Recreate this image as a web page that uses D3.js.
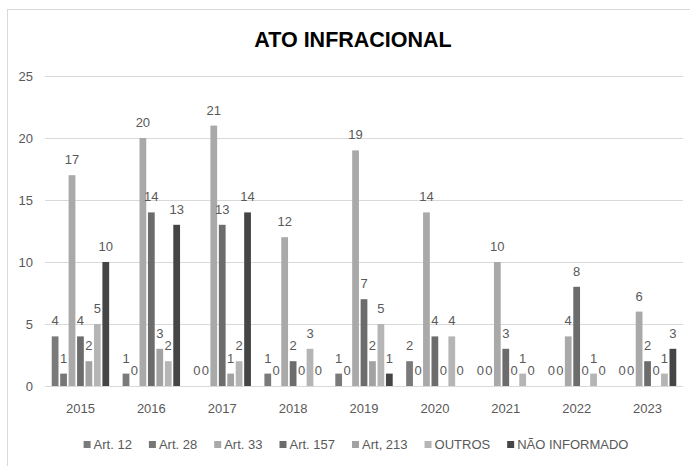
<!DOCTYPE html>
<html>
<head>
<meta charset="utf-8">
<script src="https://cdn.jsdelivr.net/npm/d3@7"></script>
<style>
  body { margin: 0; background: #fff; }
  svg text { font-family: "Liberation Sans", Arial, sans-serif; }
</style>
</head>
<body>
<div id="chart"></div>
<script>
// years on the x axis
var years = ["2015", "2016", "2017", "2018", "2019", "2020", "2021", "2022", "2023"];

// one array per series, same order as years
var art12 = [4, 1, 0, 1, 1, 2, 0, 0, 0];
var art28 = [1, 0, 0, 0, 0, 0, 0, 0, 0];
var art33 = [17, 20, 21, 12, 19, 14, 10, 4, 6];
var art157 = [4, 14, 13, 2, 7, 4, 3, 8, 2];
var art213 = [2, 3, 1, 0, 2, 0, 0, 0, 0];
var outros = [5, 2, 2, 3, 5, 4, 1, 1, 1];
var naoInformado = [10, 13, 14, 0, 1, 0, 0, 0, 3];

var seriesNames = ["Art. 12", "Art. 28", "Art. 33", "Art. 157", "Art, 213", "OUTROS", "NÃO INFORMADO"];
var seriesColors = ["#7a7a7a", "#777777", "#a9a9a9", "#6c6c6c", "#a2a2a2", "#b5b5b5", "#454545"];
var yTicks = [0, 5, 10, 15, 20, 25];

var allValues = [art12, art28, art33, art157, art213, outros, naoInformado];

var width = 690, height = 466;
var margin = { top: 76, right: 7, bottom: 80, left: 45 };

var svg = d3.select("#chart")
  .append("svg")
  .attr("width", width)
  .attr("height", height);

// chart frame (only top and left visible in the picture)
svg.append("rect")
  .attr("x", 7.5)
  .attr("y", 9.5)
  .attr("width", 720)
  .attr("height", 500)
  .attr("fill", "none")
  .attr("stroke", "#d9d9d9");

// title
svg.append("text")
  .attr("x", 353)
  .attr("y", 47)
  .attr("text-anchor", "middle")
  .style("font-size", "21.5px")
  .style("font-weight", "bold")
  .style("fill", "#000")
  .text("ATO INFRACIONAL");

var x0 = d3.scaleBand()
  .domain(years)
  .range([margin.left, width - margin.right])
  .paddingInner(0.19)
  .paddingOuter(0.095);

var x1 = d3.scaleBand()
  .domain(seriesNames)
  .range([0, x0.bandwidth()])
  .paddingInner(0.2);

var y = d3.scaleLinear()
  .domain([0, 25])
  .range([height - 80, margin.top]);

// gridlines + y labels
var yAxis = d3.axisLeft(y)
  .tickValues(yTicks)
  .tickSize(-(width - margin.right - margin.left))
  .tickPadding(12);

var gy = svg.append("g")
  .attr("transform", "translate(" + margin.left + ",0)")
  .call(yAxis);
gy.select(".domain").remove();
gy.selectAll(".tick line").attr("stroke", "#d9d9d9");
gy.selectAll(".tick text")
  .style("font-size", "13px")
  .style("fill", "#595959");

// x labels
var gx = svg.append("g")
  .attr("transform", "translate(0," + y(0) + ")")
  .call(d3.axisBottom(x0).tickSize(0).tickPadding(18));
gx.select(".domain").remove();
gx.selectAll(".tick text")
  .style("font-size", "13px")
  .style("fill", "#595959");

// build rows for the bars
var rows = [];
years.forEach(function (yr, i) {
  seriesNames.forEach(function (s, j) {
    rows.push({ year: yr, series: s, value: allValues[j][i], color: seriesColors[j] });
  });
});

var bars = svg.append("g");

bars.selectAll("rect")
  .data(rows)
  .enter()
  .append("rect")
  .attr("x", function (d) { return x0(d.year) + x1(d.series); })
  .attr("y", function (d) { return y(d.value); })
  .attr("width", x1.bandwidth())
  .attr("height", function (d) { return y(0) - y(d.value); })
  .attr("fill", function (d) { return d.color; });

// data labels
bars.selectAll("text")
  .data(rows)
  .enter()
  .append("text")
  .attr("x", function (d) { return x0(d.year) + x1(d.series) + x1.bandwidth() / 2; })
  .attr("y", function (d) { return y(d.value) - 11; })
  .attr("text-anchor", "middle")
  .style("font-size", "13px")
  .style("fill", "#595959")
  .text(function (d) { return d.value; });

// legend
var legend = svg.append("g");
var items = legend.selectAll("g")
  .data(seriesNames)
  .enter()
  .append("g");

items.append("rect")
  .attr("width", 7)
  .attr("height", 7)
  .attr("y", -8)
  .attr("fill", function (d, i) { return seriesColors[i]; });

items.append("text")
  .attr("x", 10)
  .attr("y", 0)
  .style("font-size", "13px")
  .style("fill", "#595959")
  .text(function (d) { return d; });

var offsets = [], pos = 0;
items.each(function () {
  offsets.push(pos);
  pos += 10 + d3.select(this).select("text").node().getComputedTextLength() + 17;
});
var totalW = pos - 17;
var startX = 356 - totalW / 2;
items.attr("transform", function (d, i) {
  return "translate(" + (startX + offsets[i]) + ",449)";
});
</script>
</body>
</html>
